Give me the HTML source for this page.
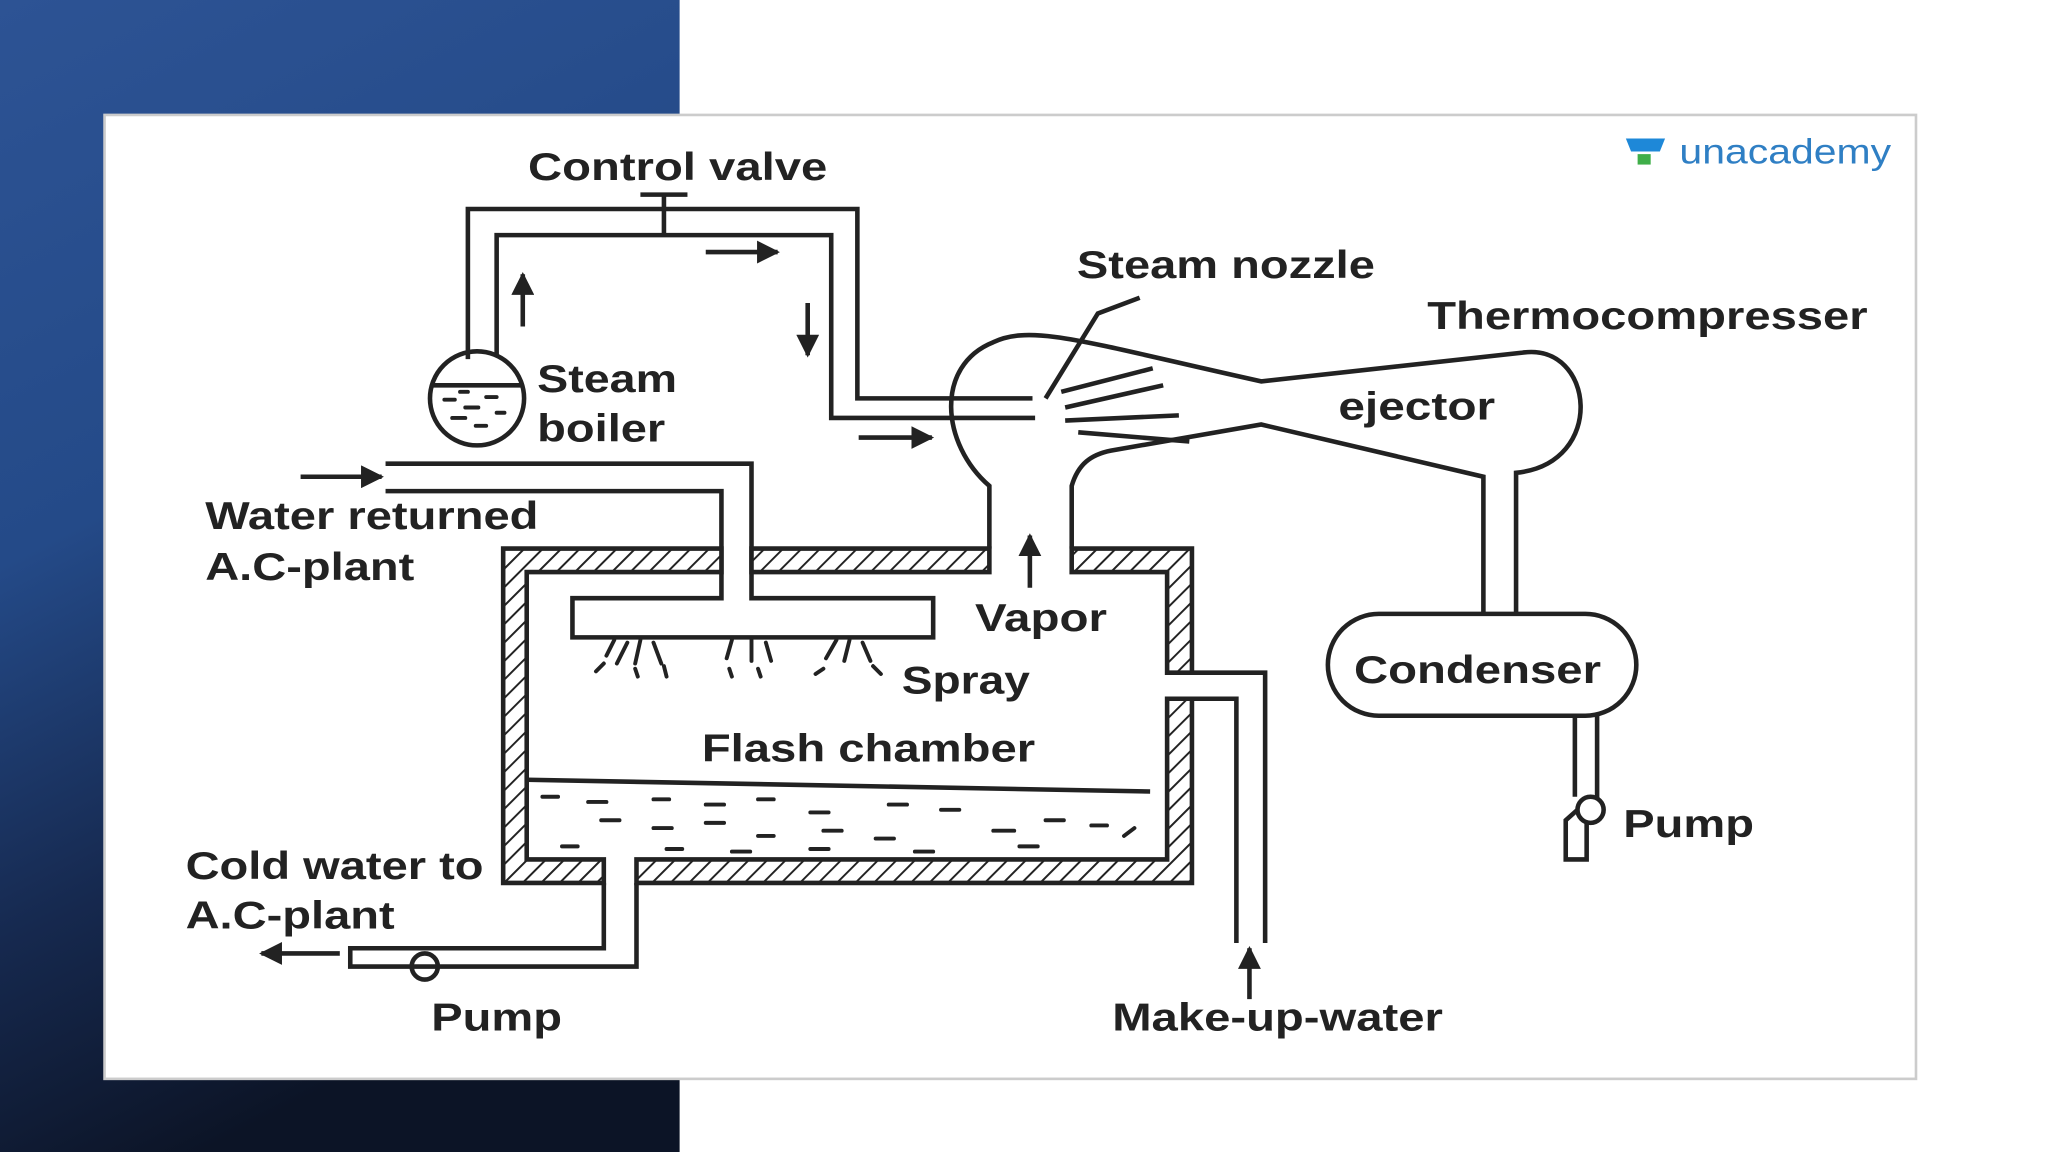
<!DOCTYPE html>
<html><head><meta charset="utf-8"><style>
html,body{margin:0;padding:0;width:2048px;height:1152px;overflow:hidden;background:#fff}
svg{display:block}
text{font-family:"Liberation Sans",sans-serif;font-weight:bold;fill:#222}
</style></head><body>
<svg width="2048" height="1152" viewBox="0 0 1567 882" preserveAspectRatio="none" xmlns="http://www.w3.org/2000/svg">
<defs>
<linearGradient id="bg" x1="0" y1="0" x2="0.3" y2="1">
<stop offset="0" stop-color="#2d5394"/><stop offset="0.45" stop-color="#244a88"/><stop offset="0.75" stop-color="#16294f"/><stop offset="1" stop-color="#0c1426"/>
</linearGradient>
<pattern id="hatch" width="10" height="10" patternUnits="userSpaceOnUse" patternTransform="rotate(45)">
<rect width="10" height="10" fill="#fff"/><line x1="0" y1="0" x2="0" y2="10" stroke="#222" stroke-width="3"/>
</pattern>
<marker id="ah" viewBox="0 0 10 10" refX="9" refY="5" markerWidth="5" markerHeight="5" orient="auto"><path d="M0,0 L10,5 L0,10 z" fill="#222"/></marker>
</defs>
<rect x="0" y="0" width="520" height="882" fill="url(#bg)"/>
<rect x="80" y="88" width="1386" height="738" fill="#fff" stroke="#ccc" stroke-width="2"/>
<g fill="none" stroke="#222" stroke-width="3.5" stroke-linejoin="miter">
<polyline points="358,275 358,160 656,160 656,305 790,305"/>
<polyline points="380,272 380,180 636,180 636,320 792,320"/>
<line x1="508" y1="148" x2="508" y2="180"/><line x1="490" y1="149" x2="526" y2="149"/>
<circle cx="365" cy="305" r="36"/>
<line x1="330" y1="295" x2="400" y2="295"/>
<polyline points="295,355 575,355 575,458 714,458 714,488 438,488 438,458 552,458 552,376 295,376"/>
<path d="M385,420 H552 V438 H403 V658 H462 V676 H385 Z" fill="url(#hatch)"/>
<path d="M575,420 H757 V438 H575 Z" fill="url(#hatch)"/>
<path d="M820,420 H912 V515 H893 V438 H820 Z" fill="url(#hatch)"/>
<path d="M893,535 H912 V676 H487 V658 H893 Z" fill="url(#hatch)"/>
<polyline points="403,597 880,606"/>
<polyline points="462,676 462,726 268,726 268,740 487,740 487,676"/>
<circle cx="325" cy="740" r="10"/>
<polyline points="912,515 968,515 968,722"/>
<polyline points="912,535 946,535 946,722"/>
<path d="M757,420 V372 C720,340 715,280 760,262 C790,248 830,262 965,292 L1165,270 C1220,262 1230,355 1160,362 V470"/>
<path d="M820,420 V372 C825,355 835,348 850,345 L965,325 L1135,365 V470"/>
<path d="M800,305 L840,240 L872,228"/>
<line x1="812" y1="300" x2="882" y2="282"/>
<line x1="815" y1="312" x2="890" y2="295"/>
<line x1="815" y1="322" x2="902" y2="318"/>
<line x1="825" y1="331" x2="910" y2="338"/>
<rect x="1016" y="470" width="236" height="78" rx="39"/>
<polyline points="1205,548 1205,610"/><polyline points="1222,548 1222,612"/>
<circle cx="1217" cy="620" r="10"/>
<polyline points="1207,620 1198,628 1198,658 1214,658 1214,630"/>
</g>
<g stroke="#222" stroke-width="3" fill="none" stroke-linecap="round">
<path d="M340,306 h8 M356,312 h10 M372,304 h8 M346,320 h10 M364,326 h8 M380,316 h6 M352,300 h6"/>
<path d="M415,610 h12 M450,614 h14 M500,612 h12 M540,616 h14 M580,612 h12 M620,622 h14 M680,616 h14 M720,620 h14 M800,628 h14 M835,632 h12 M460,628 h14 M500,634 h14 M540,630 h14 M580,640 h12 M630,636 h14 M670,642 h14 M760,636 h16 M430,648 h12 M510,650 h12 M560,652 h14 M620,650 h14 M700,652 h14 M780,648 h14 M860,640 l8,-6"/>
<path d="M470,490 l-6,12 M480,492 l-8,16 M490,490 l-4,18 M500,492 l6,16 M462,508 l-6,6 M486,512 l2,6 M508,510 l2,8 M560,490 l-4,14 M575,490 l0,16 M586,492 l4,14 M558,512 l2,6 M580,512 l2,6 M640,490 l-8,14 M650,490 l-4,16 M660,492 l6,14 M630,512 l-6,4 M668,510 l6,6"/>
</g>
<g stroke="#222" stroke-width="3.5" marker-end="url(#ah)">
<line x1="400" y1="250" x2="400" y2="210"/>
<line x1="540" y1="193" x2="595" y2="193"/>
<line x1="618" y1="232" x2="618" y2="272"/>
<line x1="657" y1="335" x2="713" y2="335"/>
<line x1="230" y1="365" x2="292" y2="365"/>
<line x1="788" y1="450" x2="788" y2="410"/>
<line x1="260" y1="730" x2="200" y2="730"/>
<line x1="956" y1="765" x2="956" y2="726"/>
</g>
<g font-size="30">
<text x="404" y="138" textLength="229" lengthAdjust="spacingAndGlyphs">Control valve</text>
<text x="824" y="213" textLength="228" lengthAdjust="spacingAndGlyphs">Steam nozzle</text>
<text x="1092" y="252" textLength="337" lengthAdjust="spacingAndGlyphs">Thermocompresser</text>
<text x="411" y="300" textLength="107" lengthAdjust="spacingAndGlyphs">Steam</text>
<text x="411" y="338" textLength="98" lengthAdjust="spacingAndGlyphs">boiler</text>
<text x="1024" y="321" textLength="120" lengthAdjust="spacingAndGlyphs">ejector</text>
<text x="157" y="405" textLength="255" lengthAdjust="spacingAndGlyphs">Water returned</text>
<text x="157" y="444" textLength="160" lengthAdjust="spacingAndGlyphs">A.C-plant</text>
<text x="746" y="483" textLength="101" lengthAdjust="spacingAndGlyphs">Vapor</text>
<text x="690" y="531" textLength="98" lengthAdjust="spacingAndGlyphs">Spray</text>
<text x="1036" y="523" textLength="189" lengthAdjust="spacingAndGlyphs">Condenser</text>
<text x="537" y="583" textLength="255" lengthAdjust="spacingAndGlyphs">Flash chamber</text>
<text x="1242" y="641" textLength="100" lengthAdjust="spacingAndGlyphs">Pump</text>
<text x="142" y="673" textLength="228" lengthAdjust="spacingAndGlyphs">Cold water to</text>
<text x="142" y="711" textLength="160" lengthAdjust="spacingAndGlyphs">A.C-plant</text>
<text x="330" y="789" textLength="100" lengthAdjust="spacingAndGlyphs">Pump</text>
<text x="851" y="789" textLength="253" lengthAdjust="spacingAndGlyphs">Make-up-water</text>
</g>
<path d="M1244,106 h30 l-4,10 h-22 z" fill="#1e88d8"/><rect x="1253" y="118" width="10" height="8" fill="#3fae49"/>
<text x="1285" y="125" font-size="27" style="font-weight:normal;fill:#2f7fc4" textLength="162" lengthAdjust="spacingAndGlyphs">unacademy</text>
</svg>
</body></html>
